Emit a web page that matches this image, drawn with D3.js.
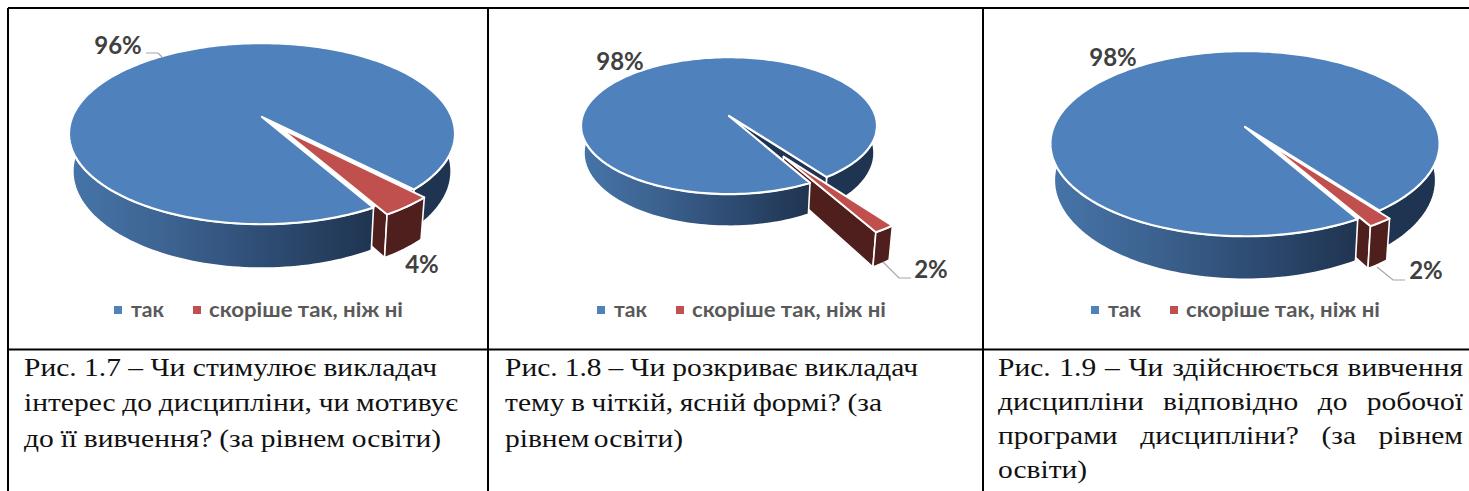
<!DOCTYPE html>
<html><head><meta charset="utf-8">
<script src="https://cdn.jsdelivr.net/npm/d3@7/dist/d3.min.js"></script>
<style>html,body{margin:0;padding:0;background:#fff}svg{display:block}</style>
</head><body><svg id="c" width="1469" height="491"></svg>
<script>
// ---- data ----
const categories = ["так", "скоріше так, ніж ні"];
const values1 = [96, 4];
const values2 = [98, 2];
const values3 = [98, 2];
const captions1 = ["Рис. 1.7 – Чи стимулює викладач", "інтерес до дисципліни, чи мотивує", "до її вивчення? (за рівнем освіти)"];
const captions2 = ["Рис. 1.8 – Чи розкриває викладач", "тему в чіткій, ясній формі? (за", "рівнем освіти)"];
const captions3 = ["Рис. 1.9 – Чи здійснюється вивчення", "дисципліни відповідно до робочої", "програми дисципліни? (за рівнем", "освіти)"];
const colors = {blue:"#4f81bd", red:"#c0504d", maroon:"#4e1f1c", navy:"#1f3450", text:"#404040", legend:"#595959", leader:"#a6a6a6"};

// ---- layout (not data) ----
const layouts = [
 {values:values1, captions:captions1, cx:262, ay:117, a:87.5, b:189.7, k:.184, D:36.4, sx:.98, sy:1.07, rot:46, rr:.92, ex:.155, exA:53.2, whiteGap:true,
  lab:[[118,54],[422,273]], leader:[[146,53],[158,53],[162,57]], lx:114,
  capX:24, capW:[413,434,417], capY:[376,411,447]},
 {values:values2, captions:captions2, cx:729, ay:116, a:67.1, b:146.5, k:.141, D:26.6, sx:.98, sy:1.07, rot:53.8, rr:.955, ex:.654, exA:58.4, whiteGap:false,
  lab:[[620,70],[931,278]], leader:[[883,262],[899,278],[911,278]], lx:597,
  capX:505, capW:[413,377,178], capY:[376,411,447]},
 {values:values3, captions:captions3, cx:1245, ay:127, a:89.6, b:191.4, k:.18, D:35.4, sx:.98, sy:1.07, rot:53, rr:.873, ex:.2, exA:55.7, whiteGap:true,
  lab:[[1113,66],[1426,279]], leader:[[1377,267],[1393,280],[1405,280]], lx:1091,
  capX:998, capW:[465,465,465,87], capY:[376,410,444,478]}
];
const svg = d3.select("#c");
const defs = svg.append("defs");
const rad = d => d*Math.PI/180;
const line = d3.line();
const fmt = d => d3.format(".0f")(d)+"%";
const SANS = "Lato, 'Noto Sans', 'Open Sans', sans-serif";
const SERIF = "'Liberation Serif','Times New Roman',serif";
const CAP_SIZE = 25;

const probe = svg.append("text").attr("font-family",SERIF).attr("font-size",CAP_SIZE).text(captions1[0]);
const capStretch = 413/probe.node().getComputedTextLength();
probe.remove();

layouts.forEach((L,i)=>{
  const g = svg.append("g");
  const pie = d3.pie().sort(null).startAngle(0).endAngle(2*Math.PI);
  const arcs = pie(L.values);
  const sweep = arcs[1].endAngle-arcs[1].startAngle;
  const rot = rad(L.rot);
  const blueA0 = rot+sweep, blueA1 = rot+2*Math.PI;
  const redA0 = rot, redA1 = rot+sweep;
  const du = L.ex*Math.cos(rad(L.exA)), dv = L.ex*Math.sin(rad(L.exA));

  const P = (u,v,lev) => {
    const w = 1-L.k*v;
    return [L.cx+L.b*(lev?L.sx:1)*u/w, L.ay+(lev?L.D:0)+L.a*(lev?L.sy:1)*v/w];
  };
  const arcPts = (a0,a1,r,lev,ox=0,oy=0) => {
    const n = Math.max(2,Math.ceil(Math.abs(a1-a0)/rad(1.5)));
    return d3.range(n+1).map(j=>{const t=a0+(a1-a0)*j/n; return P(ox+r*Math.cos(t),oy+r*Math.sin(t),lev);});
  };
  const wall = (a0,a1,r,ox=0,oy=0)=> line(arcPts(a0,a1,r,0,ox,oy).concat(arcPts(a1,a0,r,1,ox,oy)))+"Z";
  const cutFace = (t,r,ox=0,oy=0)=>{
    const p=[ox+r*Math.cos(t),oy+r*Math.sin(t)];
    return line([P(ox,oy,0),P(p[0],p[1],0),P(p[0],p[1],1),P(ox,oy,1)])+"Z";
  };
  const sector = (a0,a1,r,ox=0,oy=0)=> line([P(ox,oy,0)].concat(arcPts(a0,a1,r,0,ox,oy)))+"Z";

  const gid = "wall"+i;
  const lg = defs.append("linearGradient").attr("id",gid).attr("gradientUnits","userSpaceOnUse")
    .attr("x1",L.cx-L.b).attr("x2",P(Math.cos(blueA0),Math.sin(blueA0),0)[0]).attr("y1",0).attr("y2",0);
  [[0,"#4674a8"],[.3,"#3d6492"],[.62,"#2f4e76"],[1,colors.navy]].forEach(s=>lg.append("stop").attr("offset",s[0]).attr("stop-color",s[1]));

  const draw = (d,fill,sw=1.6)=> g.append("path").attr("d",d).attr("fill",fill).attr("stroke","#fff").attr("stroke-width",sw).attr("stroke-linejoin","round");

  draw(wall(rad(-5),rot,1),colors.navy);
  draw(cutFace(rot,1),colors.navy);
  draw(cutFace(redA1,L.rr,du,dv),colors.maroon);
  draw(wall(redA0,redA1,L.rr,du,dv),colors.maroon);
  draw(wall(blueA0,rad(185),1),`url(#${gid})`);
  if (L.whiteGap) {
    const a=P(Math.cos(redA0),Math.sin(redA0),0), b=P(Math.cos(redA1),Math.sin(redA1),0);
    g.append("path").attr("d",line([P(0,0,0),a,b])+"Z").attr("fill","#fff");
  }
  draw(sector(blueA0,blueA1,1),colors.blue,2.2);
  draw(sector(redA0,redA1,L.rr,du,dv),colors.red,2);

  g.append("path").attr("d",line(L.leader)).attr("fill","none").attr("stroke",colors.leader).attr("stroke-width",1.2);
  L.values.forEach((v,j)=>{
    g.append("text").attr("x",L.lab[j][0]).attr("y",L.lab[j][1]).attr("text-anchor","middle")
      .attr("font-family",SANS).attr("font-weight",700).attr("font-size",24).attr("fill",colors.text).text(fmt(v));
  });
  const lx=L.lx;
  const leg=[{sq:lx,tx:lx+17,w:33,c:colors.blue},{sq:lx+79,tx:lx+95,w:194,c:colors.red}];
  categories.forEach((t,j)=>{
    g.append("rect").attr("x",leg[j].sq).attr("y",306).attr("width",8).attr("height",8).attr("fill",leg[j].c);
    g.append("text").attr("x",leg[j].tx).attr("y",317).attr("font-family",SANS).attr("font-weight",700)
      .attr("font-size",21).attr("fill",colors.legend)
      .attr("textLength",leg[j].w).attr("lengthAdjust","spacingAndGlyphs").text(t);
  });
  L.captions.forEach((t,j)=>{
    const el = g.append("text").attr("transform",`translate(${L.capX},${L.capY[j]}) scale(${capStretch},1)`)
      .attr("font-family",SERIF).attr("font-size",CAP_SIZE).attr("fill","#111").text(t);
    const gaps = t.split(" ").length-1;
    if (gaps>0) {
      const extra = (L.capW[j]/capStretch - el.node().getComputedTextLength())/gaps;
      el.attr("word-spacing",extra);
    }
  });
});

const rules=[[8,8,1469,8],[8,349.5,1469,349.5],[8,8,8,491],[488,8,488,491],[983,8,983,491]];
svg.append("g").selectAll("line").data(rules).join("line")
  .attr("x1",d=>d[0]).attr("y1",d=>d[1]).attr("x2",d=>d[2]).attr("y2",d=>d[3])
  .attr("stroke","#000").attr("stroke-width",2);
</script></body></html>
